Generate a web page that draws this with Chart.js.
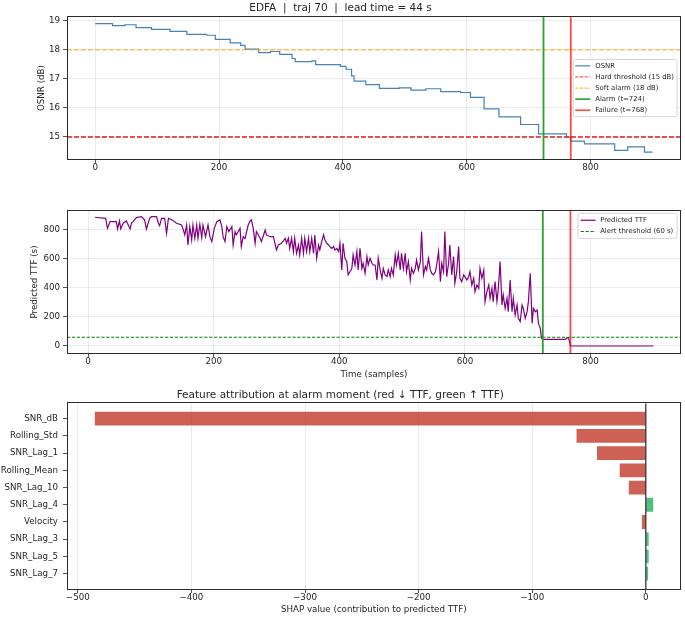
<!DOCTYPE html>
<html><head><meta charset="utf-8">
<script src="https://cdn.jsdelivr.net/npm/chart.js@4.4.0/dist/chart.umd.min.js"></script>
<style>
html,body{margin:0;padding:0;background:#fff;}
#wrap{position:relative;width:685px;height:620px;overflow:hidden;background:#fff;}
canvas{position:absolute;left:0;}
</style></head><body>
<div id="wrap">
<canvas id="c1" width="685" height="180" style="top:0px;width:685px;height:180px"></canvas>
<canvas id="c2" width="685" height="200" style="top:185px;width:685px;height:200px"></canvas>
<canvas id="c3" width="685" height="235" style="top:385px;width:685px;height:235px"></canvas>
</div>
<script>
// ---------------- DATA ----------------
const TITLE_TOP = 'EDFA  |  traj 70  |  lead time = 44 s';
const TITLE_BOTTOM = 'Feature attribution at alarm moment (red \u2193 TTF, green \u2191 TTF)';
const HARD_TH = 15;
const SOFT_TH = 18;
const ALARM_T = 724;
const FAILURE_T = 768;
const ALERT_TTF = 60;

// OSNR step changes (sample index, dB)
const osnrT = [0, 28, 48, 66, 91, 121, 148, 180, 194, 218,
               235, 242, 264, 283, 298, 318, 323, 350, 356, 396,
               405, 414, 418, 437, 459, 491, 510, 534, 558, 590,
               606, 628, 652, 687, 716, 761, 768, 790, 839, 860,
               887, 900];
const osnrV = [18.90, 18.83, 18.86, 18.76, 18.70, 18.63, 18.53, 18.50, 18.36, 18.24,
               18.15, 18.02, 17.90, 17.94, 17.84, 17.70, 17.59, 17.62, 17.49, 17.43,
               17.33, 17.10, 16.92, 16.80, 16.67, 16.69, 16.61, 16.66, 16.56, 16.53,
               16.36, 15.97, 15.69, 15.43, 15.11, 15.00, 14.86, 14.76, 14.54, 14.66,
               14.48, 14.48];

// Predicted TTF (sample index, seconds)
const ttfT = [11, 28, 31, 35, 45, 47, 50, 52, 56, 61,
              67, 69, 74, 77, 85, 90, 93, 98, 101, 109,
              112, 114, 117, 122, 125, 128, 134, 141, 149, 151,
              154, 157, 159, 162, 165, 167, 170, 173, 175, 178,
              181, 183, 187, 191, 194, 197, 201, 205, 210, 213,
              215, 218, 221, 224, 229, 231, 234, 236, 242, 244,
              247, 250, 255, 258, 260, 263, 266, 268, 274, 276,
              282, 284, 290, 295, 300, 303, 308, 314, 316, 319,
              321, 324, 327, 329, 332, 335, 337, 340, 343, 345,
              348, 351, 353, 356, 359, 361, 364, 367, 369, 372,
              375, 377, 380, 383, 385, 388, 391, 393, 396, 399,
              401, 404, 406, 409, 412, 414, 417, 420, 422, 425,
              428, 430, 433, 436, 438, 441, 444, 446, 449, 452,
              454, 457, 460, 462, 465, 468, 470, 473, 476, 478,
              481, 483, 486, 489, 491, 494, 497, 499, 502, 505,
              507, 510, 513, 515, 518, 521, 523, 526, 529, 531,
              534, 537, 539, 542, 545, 547, 550, 553, 555, 558,
              561, 563, 566, 568, 571, 574, 576, 579, 582, 584,
              587, 590, 592, 595, 598, 600, 603, 606, 608, 611,
              614, 616, 619, 622, 624, 627, 630, 632, 635, 638,
              640, 643, 645, 648, 651, 653, 656, 659, 661, 664,
              667, 669, 672, 675, 677, 680, 683, 685, 688, 691,
              693, 696, 699, 701, 704, 707, 709, 712, 715, 717,
              720, 722, 724, 760, 762, 765, 767, 768, 900];
const ttfV = [882, 875, 806, 852, 852, 802, 857, 802, 841, 857,
              802, 841, 864, 880, 886, 864, 802, 875, 886, 886,
              841, 825, 875, 875, 772, 875, 864, 841, 829, 806,
              761, 829, 692, 818, 727, 829, 738, 829, 738, 834,
              743, 829, 749, 829, 749, 715, 806, 852, 864, 818,
              749, 715, 818, 784, 818, 692, 784, 761, 806, 681,
              749, 738, 829, 857, 864, 806, 704, 784, 738, 715,
              795, 761, 749, 749, 658, 692, 704, 738, 704, 738,
              669, 738, 647, 738, 635, 692, 624, 738, 635, 738,
              647, 738, 647, 738, 635, 761, 601, 692, 658, 715,
              761, 727, 704, 692, 681, 669, 681, 658, 669, 647,
              704, 521, 704, 601, 578, 487, 509, 532, 624, 555,
              647, 521, 669, 532, 567, 498, 612, 555, 601, 567,
              555, 555, 452, 601, 521, 464, 532, 487, 475, 521,
              475, 532, 487, 624, 555, 635, 521, 635, 532, 635,
              509, 578, 452, 532, 498, 532, 589, 521, 578, 784,
              487, 544, 521, 601, 521, 498, 487, 509, 555, 647,
              441, 567, 509, 784, 475, 567, 692, 487, 612, 430,
              509, 681, 464, 441, 487, 475, 452, 475, 509, 418,
              464, 372, 418, 395, 532, 464, 521, 304, 372, 418,
              327, 395, 304, 441, 304, 384, 578, 281, 350, 258,
              327, 235, 452, 235, 327, 212, 281, 190, 167, 281,
              258, 190, 235, 304, 498, 155, 258, 235, 247, 155,
              121, 53, 46, 46, 56, 55, 20, 0, 0];

// SHAP attribution at alarm moment
const features = ['SNR_dB', 'Rolling_Std', 'SNR_Lag_1', 'Rolling_Mean', 'SNR_Lag_10',
                  'SNR_Lag_4', 'Velocity', 'SNR_Lag_3', 'SNR_Lag_5', 'SNR_Lag_7'];
const shapValues = [-485, -61, -43, -23, -15, 6.5, -3.5, 2.5, 2.5, 2];

// tick values
const timeTicks = [0, 200, 400, 600, 800];
const osnrTicks = [15, 16, 17, 18, 19];
const ttfTicks = [0, 200, 400, 600, 800];
const shapTicks = [-500, -400, -300, -200, -100, 0];

// ---------------- STYLE ----------------
const OSNR_COLOR = '#4682b4';
const HARD_COLOR = '#e41a1c';
const SOFT_COLOR = 'rgba(255,165,0,0.75)';
const ALARM_COLOR = '#2ca02c';
const FAIL_COLOR = 'rgba(255,0,0,0.72)';
const TTF_COLOR = '#800080';
const ALERT_COLOR = '#0a7d0a';
const RED_BAR = 'rgba(192,57,43,0.8)';
const GREEN_BAR = 'rgba(39,174,96,0.8)';
const GRID = 'rgba(176,176,176,0.32)';
const TXT = '#262626';
const FS = 8.7;

Chart.defaults.font.family = "'DejaVu Sans', sans-serif";
Chart.defaults.color = TXT;
Chart.defaults.animation = false;

const minusFmt = v => (v < 0 ? '\u2212' + Math.abs(v) : String(v));
const setTicks = arr => ax => { ax.ticks = arr.map(v => ({value: v})); };

// plugin: reference lines + frame
const refLines = {
  id: 'refLines',
  afterDatasetsDraw(chart, args, opts) {
    const {ctx, chartArea: a, scales} = chart;
    ctx.save();
    ctx.beginPath();
    ctx.rect(a.left, a.top, a.right - a.left, a.bottom - a.top);
    ctx.clip();
    (opts.lines || []).forEach(l => {
      ctx.beginPath();
      ctx.strokeStyle = l.color;
      ctx.lineWidth = l.width;
      ctx.setLineDash(l.dash || []);
      if (l.axis === 'y') {
        const y = scales.y.getPixelForValue(l.value);
        ctx.moveTo(a.left, y); ctx.lineTo(a.right, y);
      } else {
        const x = scales.x.getPixelForValue(l.value);
        ctx.moveTo(x, a.top); ctx.lineTo(x, a.bottom);
      }
      ctx.stroke();
    });
    ctx.restore();
    ctx.save();
    ctx.strokeStyle = '#2a2a2a';
    ctx.lineWidth = 1;
    ctx.setLineDash([]);
    const L = Math.round(a.left) + 0.5, T = Math.round(a.top) - 0.5;
    const R = Math.round(a.right) - 0.5, B = Math.round(a.bottom) + 0.5;
    ctx.strokeRect(L, T, R - L, B - T);
    ctx.restore();
  }
};

// plugin: in-axes legend box
const boxLegend = {
  id: 'boxLegend',
  afterDraw(chart, args, o) {
    if (!o || !o.items) return;
    const {ctx, chartArea: a} = chart;
    ctx.save();
    ctx.font = o.fontSize + "px 'DejaVu Sans', sans-serif";
    const tw = Math.max(...o.items.map(it => ctx.measureText(it.label).width));
    const w = o.padX + o.lineLen + o.gap + tw + o.padX + 1;
    const h = o.items.length * o.rowH + 2 * o.padY;
    const x = a.right - o.marginRight - w;
    const y = o.vAlign === 'center' ? (a.top + a.bottom) / 2 - h / 2 : a.top + o.marginTop;
    ctx.beginPath();
    const r = 2;
    ctx.moveTo(x + r, y); ctx.lineTo(x + w - r, y); ctx.quadraticCurveTo(x + w, y, x + w, y + r);
    ctx.lineTo(x + w, y + h - r); ctx.quadraticCurveTo(x + w, y + h, x + w - r, y + h);
    ctx.lineTo(x + r, y + h); ctx.quadraticCurveTo(x, y + h, x, y + h - r);
    ctx.lineTo(x, y + r); ctx.quadraticCurveTo(x, y, x + r, y);
    ctx.closePath();
    ctx.fillStyle = 'rgba(255,255,255,0.85)';
    ctx.fill();
    ctx.strokeStyle = '#cccccc';
    ctx.lineWidth = 0.8;
    ctx.stroke();
    o.items.forEach((it, i) => {
      const cy = y + o.padY + o.rowH * (i + 0.5);
      ctx.beginPath();
      ctx.strokeStyle = it.color;
      ctx.lineWidth = it.width;
      ctx.setLineDash(it.dash || []);
      ctx.moveTo(x + o.padX, cy);
      ctx.lineTo(x + o.padX + o.lineLen, cy);
      ctx.stroke();
      ctx.setLineDash([]);
      ctx.fillStyle = TXT;
      ctx.textBaseline = 'middle';
      ctx.textAlign = 'left';
      ctx.fillText(it.label, x + o.padX + o.lineLen + o.gap, cy);
    });
    ctx.restore();
  }
};

function xAxis(min, max, ticks, height, title, titlePadBottom, fmt) {
  return {
    type: 'linear', min, max, bounds: 'data', offset: false,
    afterBuildTicks: setTicks(ticks),
    afterFit: s => { s.height = height; },
    grid: { color: GRID, lineWidth: 0.8, drawTicks: true, tickLength: 4, tickColor: '#2a2a2a', tickWidth: 0.8, offset: false },
    border: { display: false },
    ticks: { font: { size: FS }, padding: 0, maxRotation: 0, autoSkip: false, callback: fmt || (v => String(v)) },
    title: title ? { display: true, text: title, font: { size: FS }, padding: { top: 0, bottom: titlePadBottom } } : { display: false }
  };
}
function yAxis(min, max, ticks, title, titlePadTop) {
  return {
    type: 'linear', min, max, bounds: 'data',
    afterBuildTicks: setTicks(ticks),
    afterFit: s => { s.width = 67; },
    grid: { color: GRID, lineWidth: 0.8, drawTicks: true, tickLength: 4, tickColor: '#2a2a2a', tickWidth: 0.8 },
    border: { display: false },
    ticks: { font: { size: FS }, padding: 3, autoSkip: false },
    title: { display: true, text: title, font: { size: FS }, padding: { top: titlePadTop, bottom: 0 } }
  };
}

// ---------------- CHART 1: OSNR ----------------
new Chart(document.getElementById('c1'), {
  type: 'line',
  data: {
    datasets: [{
      label: 'OSNR',
      data: osnrT.map((t, i) => ({ x: t, y: osnrV[i] })),
      borderColor: OSNR_COLOR, borderWidth: 1.2, pointRadius: 0, stepped: 'before', fill: false
    }]
  },
  options: {
    responsive: false, animation: false, devicePixelRatio: 1,
    layout: { padding: { left: 0, right: 4, top: 0, bottom: 0 } },
    scales: {
      x: xAxis(-45.5, 946, timeTicks, 21, null, 0),
      y: yAxis(14.243, 19.124, osnrTicks, 'OSNR (dB)', 36.5)
    },
    plugins: {
      legend: { display: false },
      tooltip: { enabled: false },
      title: { display: true, text: TITLE_TOP, color: TXT, font: { size: 10.5, weight: 'normal' }, padding: { top: 2.2, bottom: 2.3 } },
      refLines: {
        lines: [
          { axis: 'y', value: HARD_TH, color: HARD_COLOR, width: 1.3, dash: [4.9, 2.1] },
          { axis: 'y', value: SOFT_TH, color: SOFT_COLOR, width: 1.3, dash: [4.9, 2.1] },
          { axis: 'x', value: ALARM_T, color: ALARM_COLOR, width: 1.8 },
          { axis: 'x', value: FAILURE_T, color: FAIL_COLOR, width: 1.8 }
        ]
      },
      boxLegend: {
        fontSize: 6.9, rowH: 11.1, padY: 0.8, padX: 2, lineLen: 15, gap: 5,
        marginRight: 4, vAlign: 'center',
        items: [
          { label: 'OSNR', color: OSNR_COLOR, width: 1.2 },
          { label: `Hard threshold (${HARD_TH} dB)`, color: 'rgba(255,40,40,0.75)', width: 1.2, dash: [3.3, 1.4] },
          { label: `Soft alarm (${SOFT_TH} dB)`, color: SOFT_COLOR, width: 1.2, dash: [3.3, 1.4] },
          { label: `Alarm (t=${ALARM_T})`, color: ALARM_COLOR, width: 1.6 },
          { label: `Failure (t=${FAILURE_T})`, color: FAIL_COLOR, width: 1.6 }
        ]
      }
    }
  },
  plugins: [refLines, boxLegend]
});

// ---------------- CHART 2: Predicted TTF ----------------
new Chart(document.getElementById('c2'), {
  type: 'line',
  data: {
    datasets: [{
      label: 'Predicted TTF',
      data: ttfT.map((t, i) => ({ x: t, y: ttfV[i] })),
      borderColor: TTF_COLOR, borderWidth: 1.2, pointRadius: 0, tension: 0, fill: false
    }]
  },
  options: {
    responsive: false, animation: false, devicePixelRatio: 1,
    layout: { padding: { left: 0, right: 4, top: 26, bottom: 0 } },
    scales: {
      x: xAxis(-33.5, 944, timeTicks, 32, 'Time (samples)', 5.3),
      y: yAxis(-48, 925, ttfTicks, 'Predicted TTF (s)', 29.8)
    },
    plugins: {
      legend: { display: false },
      tooltip: { enabled: false },
      refLines: {
        lines: [
          { axis: 'y', value: ALERT_TTF, color: ALERT_COLOR, width: 1, dash: [3.3, 1.6] },
          { axis: 'x', value: ALARM_T, color: ALARM_COLOR, width: 1.8 },
          { axis: 'x', value: FAILURE_T, color: FAIL_COLOR, width: 1.8 }
        ]
      },
      boxLegend: {
        fontSize: 6.9, rowH: 11.3, padY: 1.2, padX: 2.7, lineLen: 15, gap: 4.5,
        marginRight: 4, marginTop: 2.4, vAlign: 'top',
        items: [
          { label: 'Predicted TTF', color: TTF_COLOR, width: 1.2 },
          { label: `Alert threshold (${ALERT_TTF} s)`, color: ALERT_COLOR, width: 1, dash: [3.3, 1.6] }
        ]
      }
    }
  },
  plugins: [refLines, boxLegend]
});

// ---------------- CHART 3: SHAP bars ----------------
new Chart(document.getElementById('c3'), {
  type: 'bar',
  data: {
    datasets: [{
      label: 'SHAP',
      data: shapValues.map((v, i) => ({ x: v, y: i })),
      backgroundColor: shapValues.map(v => (v < 0 ? RED_BAR : GREEN_BAR)),
      borderWidth: 0,
      categoryPercentage: 1,
      barPercentage: 0.8
    }]
  },
  options: {
    indexAxis: 'y',
    responsive: false, animation: false, devicePixelRatio: 1,
    layout: { padding: { left: 0, right: 4.5, top: 0, bottom: 0 } },
    scales: {
      x: Object.assign(xAxis(-509.5, 30.5, shapTicks, 31, 'SHAP value (contribution to predicted TTF)', 4.8, minusFmt), { beginAtZero: false }),
      y: {
        type: 'linear', min: -0.89, max: 9.89, reverse: true, bounds: 'data', offset: false,
        afterBuildTicks: setTicks(features.map((f, i) => i)),
        afterFit: s => { s.width = 67; },
        grid: { drawOnChartArea: false, drawTicks: true, tickLength: 4, tickColor: '#2a2a2a', tickWidth: 0.8, offset: false },
        border: { display: false },
        ticks: { font: { size: FS }, padding: 5, autoSkip: false, callback: v => features[Math.round(v)] ?? '' }
      }
    },
    plugins: {
      legend: { display: false },
      tooltip: { enabled: false },
      title: { display: true, text: TITLE_BOTTOM, color: TXT, font: { size: 10.5, weight: 'normal' }, padding: { top: 4.2, bottom: 1.5 } },
      refLines: {
        lines: [ { axis: 'x', value: 0, color: '#000000', width: 1 } ]
      }
    }
  },
  plugins: [refLines]
});
</script>
</body></html>
